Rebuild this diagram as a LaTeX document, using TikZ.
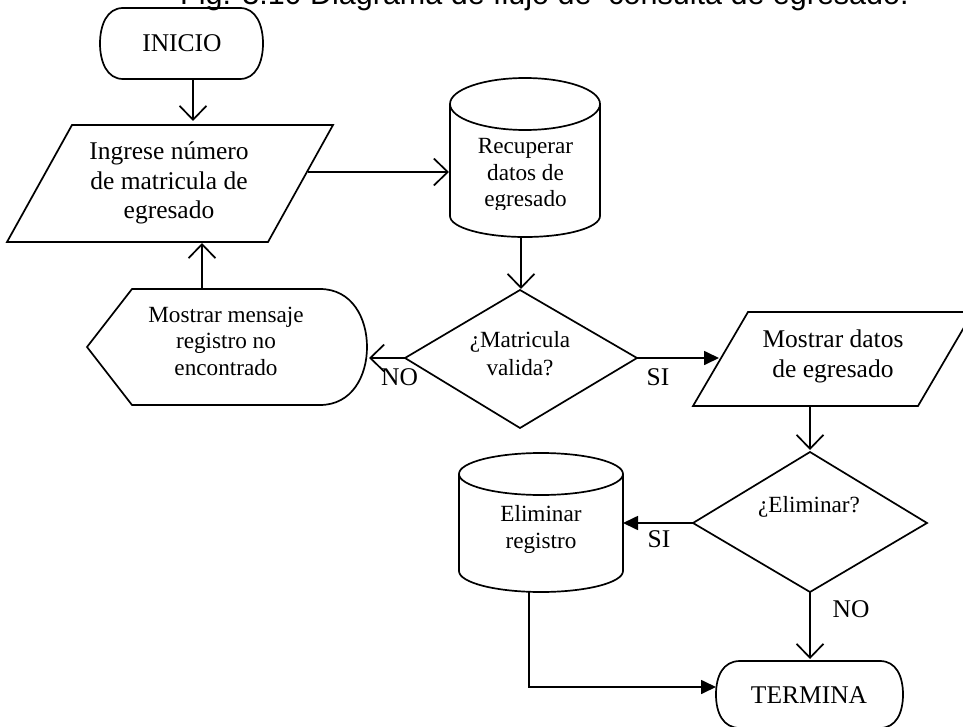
\documentclass[tikz,border=0pt]{standalone}
\usepackage{fontspec}
\setmainfont{Liberation Serif}
\newfontfamily\arialf{Liberation Sans}
\usetikzlibrary{arrows.meta}
\tikzset{
  ln/.style={line width=1.7pt, line join=miter},
  shp/.style={ln, draw=black},
  openarr/.style={ln, -{Straight Barb[length=14pt,width=27pt]}},
  fillarr/.style={ln, -{Triangle[length=15pt,width=14pt]}},
  txt/.style={inner sep=0pt, align=center, anchor=base},
  big/.style={txt, font=\fontsize{25.5}{29.5}\selectfont},
  small/.style={txt, font=\fontsize{23.2}{26.5}\selectfont},
}
\begin{document}
\begin{tikzpicture}[x=1pt,y=-1pt]
\useasboundingbox[fill=white] (0,0) rectangle (963,727);

% title (cut at the top of the page, as in the reference)
\node[inner sep=0pt, anchor=base west, font=\arialf\fontsize{30.5}{34}\selectfont] (title) at (180,5) {Fig. 3.10 Diagrama de flujo de\ \ consulta de egresado.};

% INICIO
\draw[shp] (123,8) -- (240,8) .. controls (256,8) and (263,25) .. (263,43.5)
  .. controls (263,62) and (256,79) .. (240,79) -- (123,79)
  .. controls (107,79) and (100,62) .. (100,43.5)
  .. controls (100,25) and (107,8) .. (123,8) -- cycle;
\node[big] (inicio) at (182,52) {INICIO};
\coordinate (inicio-s) at (193,79);

% Ingrese
\draw[shp] (72,125) -- (333,125) -- (268,242) -- (7,242) -- cycle;
\node[big, font=\fontsize{25.5}{29.5}\selectfont] (ingrese) at (169,219) {Ingrese número\\de matricula de\\egresado};
\coordinate (ing-n) at (193,121);
\coordinate (ing-e) at (308,172);
\coordinate (ing-s) at (202,243);

% Recuperar (cylinder)
\draw[shp] (525,104) ellipse [x radius=75, y radius=26];
\draw[shp] (450,104) -- (450,216) arc[start angle=180, end angle=0, x radius=75, y radius=21] -- (600,104);
\begin{scope}
  \clip (450,118) rectangle (600,210);
  \node[small] (recuperar) at (525.5,207) {Recuperar\\datos de\\egresado};
\end{scope}
\coordinate (rec-w) at (449,172);
\coordinate (rec-s) at (521,237);

% Matricula diamond
\draw[shp] (405,358) -- (520,290) -- (637,358) -- (520,428) -- cycle;
\node[small, font=\fontsize{23.2}{28}\selectfont] (matricula) at (520,375) {¿Matricula\\valida?};
\coordinate (mat-n) at (521,289);
\coordinate (mat-w) at (405,358);
\coordinate (mat-e) at (637,358);

% Mostrar mensaje (display)
\draw[shp] (87,347) -- (132,289) -- (320,289)
  .. controls (352,289) and (367,318) .. (367,347)
  .. controls (367,376) and (352,405) .. (320,405) -- (132,405) -- cycle;
\node[small] (mensaje) at (226,375) {Mostrar mensaje\\registro no\\encontrado};
\coordinate (msg-n) at (202,289);
\coordinate (msg-e) at (369,358);

% Mostrar datos
\draw[shp] (748,312) -- (973,312) -- (918,406) -- (693,406) -- cycle;
\node[big, font=\fontsize{25.5}{30}\selectfont] (datos) at (833,377) {Mostrar datos\\de egresado};
\coordinate (dat-w) at (719,358);
\coordinate (dat-s) at (810,406);

% Eliminar diamond
\draw[shp] (693,523) -- (810,452) -- (927,523) -- (810,592) -- cycle;
\node[small] (eliminarq) at (809,512) {¿Eliminar?};
\coordinate (eli-n) at (810,450);
\coordinate (eli-w) at (693,523);
\coordinate (eli-s) at (810,592);

% Eliminar registro (cylinder)
\draw[shp] (541,474) ellipse [x radius=82, y radius=21];
\draw[shp] (459,474) -- (459,571) arc[start angle=180, end angle=0, x radius=82, y radius=21] -- (623,474);
\node[small] (eliminar) at (541,548) {Eliminar\\registro};
\coordinate (del-e) at (623,523);
\coordinate (del-s) at (529,592);

% TERMINA
\draw[shp] (740,661) -- (880,661) .. controls (896,661) and (903,676) .. (903,694.5)
  .. controls (903,713) and (896,728) .. (880,728) -- (740,728)
  .. controls (723,728) and (716,713) .. (716,694.5)
  .. controls (716,676) and (723,661) .. (740,661) -- cycle;
\node[big] (termina) at (809,703) {TERMINA};
\coordinate (ter-n) at (810,659);
\coordinate (ter-w) at (716,687);

% connectors
\draw[openarr] (inicio-s) -- (ing-n);
\draw[openarr] (ing-e) -- (rec-w);
\draw[openarr] (msg-n) -- (ing-s);
\draw[openarr] (rec-s) -- (mat-n);
\draw[openarr] (mat-w) -- (msg-e);
\draw[fillarr] (mat-e) -- (dat-w);
\draw[openarr] (dat-s) -- (eli-n);
\draw[fillarr] (eli-w) -- (del-e);
\draw[openarr] (eli-s) -- (ter-n);
\draw[fillarr] (del-s) |- (ter-w);

% labels
\node[big] (no1) at (399.5,385) {NO};
\node[big] (si1) at (658,385) {SI};
\node[big] (si2) at (659,547) {SI};
\node[big] (no2) at (851,617) {NO};
\end{tikzpicture}
\end{document}
